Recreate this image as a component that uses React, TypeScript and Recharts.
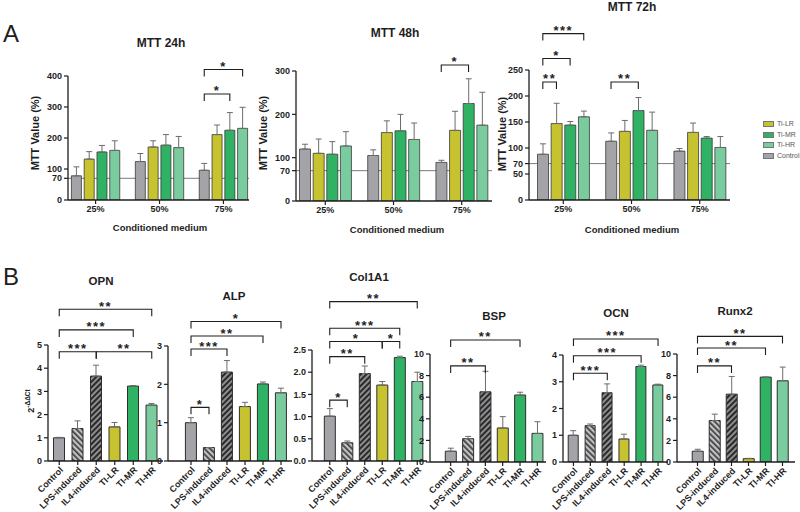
import React from 'react';
import { BarChart, Bar, XAxis, YAxis, ErrorBar, Cell, ReferenceLine, CartesianGrid } from 'recharts';

const FONT = '"Liberation Sans", Arial, Helvetica, sans-serif';
const INK = '#1e1e1e';

// ---------- Panel A: MTT viability ----------
const mttGroups = ['25%', '50%', '75%'];
const mttSeries = ['Control', 'Ti-LR', 'Ti-MR', 'Ti-HR'];

// rows follow mttSeries, columns follow mttGroups
const mtt24hMean = [[78, 124, 96], [132, 171, 211], [155, 177, 225], [160, 169, 231]];
const mtt24hSd = [[29, 26, 22], [24, 20, 31], [21, 34, 57], [31, 36, 68]];
const mtt48hMean = [[120, 105, 89], [110, 158, 163], [108, 162, 225], [127, 142, 175]];
const mtt48hSd = [[11, 13, 5], [33, 27, 44], [29, 38, 57], [33, 38, 76]];
const mtt72hMean = [[88, 113, 94], [147, 132, 130], [144, 172, 119], [160, 134, 101]];
const mtt72hSd = [[20, 16, 5], [39, 21, 18], [7, 25, 3], [11, 35, 21]];

const mtt24hTicks = [0, 70, 100, 200, 300, 400];
const mtt48hTicks = [0, 70, 100, 200, 300];
const mtt72hTicks = [0, 50, 70, 100, 150, 200, 250];
const viabilityThreshold = 70;

const mtt24hSig = [
  { group: '75%', from: 'Control', to: 'Ti-MR', y: 342, mark: '*' },
  { group: '75%', from: 'Control', to: 'Ti-HR', y: 421, mark: '*' },
];
const mtt48hSig = [{ group: '75%', from: 'Control', to: 'Ti-MR', y: 314, mark: '*' }];
const mtt72hSig = [
  { group: '25%', from: 'Control', to: 'Ti-LR', y: 227, mark: '**' },
  { group: '25%', from: 'Control', to: 'Ti-MR', y: 272, mark: '*' },
  { group: '25%', from: 'Control', to: 'Ti-HR', y: 320, mark: '***' },
  { group: '50%', from: 'Control', to: 'Ti-MR', y: 227, mark: '**' },
];

// ---------- Panel B: osteogenic gene expression ----------
const geneGroups = ['Control', 'LPS-induced', 'IL4-induced', 'TI-LR', 'TI-MR', 'TI-HR'];

const opnMean = [1.0, 1.4, 3.66, 1.47, 3.23, 2.41];
const opnSd = [0.02, 0.33, 0.47, 0.19, 0.02, 0.07];
const alpMean = [1.0, 0.35, 2.32, 1.42, 2.01, 1.78];
const alpSd = [0.13, 0, 0.3, 0.11, 0.05, 0.12];
const col1a1Mean = [1.01, 0.41, 1.97, 1.71, 2.33, 1.79];
const col1a1Sd = [0.17, 0.04, 0.17, 0.08, 0.03, 0.21];
const bspMean = [1.0, 2.16, 6.5, 3.15, 6.2, 2.65];
const bspSd = [0.28, 0.21, 1.9, 1.05, 0.26, 1.08];
const ocnMean = [1.0, 1.36, 2.59, 0.86, 3.57, 2.88];
const ocnSd = [0.17, 0.06, 0.33, 0.18, 0.05, 0.03];
const runx2Mean = [1.0, 3.84, 6.28, 0.31, 7.86, 7.52];
const runx2Sd = [0.18, 0.59, 1.64, 0.03, 0, 1.27];

const opnTicks = [0, 1, 2, 3, 4, 5];
const alpTicks = [0, 1, 2, 3];
const col1a1Ticks = [0, 0.5, 1, 1.5, 2, 2.5];
const bspTicks = [0, 2, 4, 6, 8, 10];
const ocnTicks = [0, 1, 2, 3, 4];
const runx2Ticks = [0, 2, 4, 6, 8, 10];

const opnSig = [
  { from: 'Control', to: 'IL4-induced', y: 4.71, mark: '***' },
  { from: 'IL4-induced', to: 'TI-HR', y: 4.71, mark: '**' },
  { from: 'Control', to: 'TI-MR', y: 5.65, mark: '***' },
  { from: 'Control', to: 'TI-HR', y: 6.54, mark: '**' },
];
const alpSig = [
  { from: 'Control', to: 'LPS-induced', y: 1.4, mark: '*' },
  { from: 'Control', to: 'IL4-induced', y: 2.92, mark: '***' },
  { from: 'Control', to: 'TI-MR', y: 3.26, mark: '**' },
  { from: 'Control', to: 'TI-HR', y: 3.64, mark: '*' },
];
const col1a1Sig = [
  { from: 'Control', to: 'LPS-induced', y: 1.37, mark: '*' },
  { from: 'Control', to: 'IL4-induced', y: 2.35, mark: '**' },
  { from: 'Control', to: 'TI-LR', y: 2.69, mark: '*' },
  { from: 'TI-LR', to: 'TI-MR', y: 2.69, mark: '*' },
  { from: 'Control', to: 'TI-MR', y: 2.99, mark: '***' },
  { from: 'Control', to: 'TI-HR', y: 3.59, mark: '**' },
];
const bspSig = [
  { from: 'Control', to: 'IL4-induced', y: 8.9, mark: '**' },
  { from: 'Control', to: 'TI-MR', y: 11.3, mark: '**' },
];
const ocnSig = [
  { from: 'Control', to: 'IL4-induced', y: 3.32, mark: '***' },
  { from: 'Control', to: 'TI-MR', y: 3.97, mark: '***' },
  { from: 'Control', to: 'TI-HR', y: 4.6, mark: '***' },
];
const runx2Sig = [
  { from: 'Control', to: 'IL4-induced', y: 8.9, mark: '**' },
  { from: 'Control', to: 'TI-MR', y: 10.55, mark: '**' },
  { from: 'Control', to: 'TI-HR', y: 11.63, mark: '**' },
];

const seriesFill: Record<string, string> = {
  Control: '#a3a3a8',
  'LPS-induced': 'url(#hatch-lps)',
  'IL4-induced': 'url(#hatch-il4)',
  'Ti-LR': '#c6c230',
  'TI-LR': '#c6c230',
  'Ti-MR': '#2fb264',
  'TI-MR': '#2fb264',
  'Ti-HR': '#7acc9f',
  'TI-HR': '#7acc9f',
};

type Box = { left: number; top: number; right: number; bottom: number };
type Pad = { left: number; right: number };

function frame(plot: Box, box: Box) {
  return {
    width: box.right - box.left,
    height: box.bottom - box.top,
    margin: { top: plot.top - box.top, right: box.right - plot.right, left: 0, bottom: 0 },
    yWidth: plot.left - box.left,
    xHeight: box.bottom - plot.bottom,
  };
}

// significance bracket: horizontal bar with short legs and star marks above
function bracket(mark: string, drop: number) {
  return (p: any) => {
    const { x1, y1, x2, y2 } = p;
    return (
      <g>
        <path
          d={`M${x1},${y1 + drop}V${y1}H${x2}V${y2 + drop}`}
          fill="none"
          stroke={INK}
          strokeWidth={1.1}
        />
        <text
          x={(x1 + x2) / 2}
          y={y1 + 1.5}
          textAnchor="middle"
          fontSize={13}
          fontWeight={700}
          fill={INK}
          letterSpacing={1.5}
          fontFamily={FONT}
        >
          {mark}
        </text>
      </g>
    );
  };
}

const tickText = (size: number) => ({ fontSize: size, fontWeight: 700, fill: INK, fontFamily: FONT });

type MttRow = { key: string; pos: number; series?: string; value: number | null; err?: [number, number] };

function mttRows(mean: number[][], sd: number[][]): MttRow[] {
  const rows: MttRow[] = [];
  mttGroups.forEach((g, gi) => {
    if (gi > 0) rows.push({ key: `gap${gi}`, pos: rows.length, value: null });
    mttSeries.forEach((s, si) => {
      rows.push({ key: `${g}|${s}`, pos: rows.length, series: s, value: mean[si][gi], err: [0, sd[si][gi]] });
    });
  });
  return rows;
}

function MttChart(props: {
  mean: number[][];
  sd: number[][];
  sig: { group: string; from: string; to: string; y: number; mark: string }[];
  max: number;
  ticks: number[];
  plot: Box;
  box: Box;
  pad: Pad;
}) {
  const { mean, sd, sig, max, ticks, plot, box, pad } = props;
  const rows = mttRows(mean, sd);
  const f = frame(plot, box);
  const groupTicks = mttGroups.map((_, gi) => gi * (mttSeries.length + 1) + mttSeries.length / 2);
  return (
    <div style={{ position: 'absolute', left: box.left, top: box.top }}>
      <BarChart width={f.width} height={f.height} data={rows} margin={f.margin} barCategoryGap="11%">
        <XAxis
          xAxisId="grp"
          dataKey="pos"
          type="number"
          domain={[0, rows.length]}
          allowDataOverflow
          ticks={groupTicks}
          interval={0}
          tickFormatter={(v: number) => mttGroups[groupTicks.indexOf(v)] ?? ''}
          padding={pad}
          height={f.xHeight}
          tickSize={4}
          tickMargin={2}
          tick={tickText(9)}
          axisLine={{ stroke: INK, strokeWidth: 1.3 }}
          tickLine={{ stroke: INK, strokeWidth: 1.2 }}
        />
        <XAxis xAxisId="bars" dataKey="key" type="category" hide height={0} padding={pad} />
        <YAxis
          width={f.yWidth}
          domain={[0, max]}
          ticks={ticks}
          interval={0}
          allowDataOverflow
          tickSize={4}
          tickMargin={2}
          tick={tickText(9)}
          axisLine={{ stroke: INK, strokeWidth: 1.3 }}
          tickLine={{ stroke: INK, strokeWidth: 1.2 }}
        />
        <CartesianGrid
          xAxisId="bars"
          vertical={false}
          horizontalValues={[viabilityThreshold]}
          stroke="#7b7b7b"
          strokeWidth={1}
        />
        <Bar xAxisId="bars" dataKey="value" stroke="#3a3a3a" strokeWidth={0.8} isAnimationActive={false}>
          {rows.map((r) => (
            <Cell key={r.key} fill={r.series ? seriesFill[r.series] : 'none'} stroke={r.series ? '#3a3a3a' : 'none'} />
          ))}
          <ErrorBar dataKey="err" width={3} stroke="#6c6c6c" strokeWidth={1} direction="y" />
        </Bar>
        {sig.map((s, i) => (
          <ReferenceLine
            key={i}
            xAxisId="bars"
            ifOverflow="visible"
            segment={[
              { x: `${s.group}|${s.from}`, y: s.y },
              { x: `${s.group}|${s.to}`, y: s.y },
            ]}
            shape={bracket(s.mark, 7)}
          />
        ))}
      </BarChart>
    </div>
  );
}

function GeneChart(props: {
  mean: number[];
  sd: number[];
  sig: { from: string; to: string; y: number; mark: string }[];
  max: number;
  ticks: number[];
  decimals?: number;
  plot: Box;
  box: Box;
  pad: Pad;
}) {
  const { mean, sd, sig, max, ticks, decimals, plot, box, pad } = props;
  const rows = geneGroups.map((name, i) => ({ name, value: mean[i], err: [0, sd[i]] as [number, number] }));
  const f = frame(plot, box);
  return (
    <div style={{ position: 'absolute', left: box.left, top: box.top }}>
      <BarChart width={f.width} height={f.height} data={rows} margin={f.margin} barCategoryGap="19%">
        <XAxis
          dataKey="name"
          type="category"
          interval={0}
          padding={pad}
          height={f.xHeight}
          tickSize={4}
          tickMargin={1}
          angle={-45}
          textAnchor="end"
          tick={tickText(9)}
          axisLine={{ stroke: INK, strokeWidth: 1.3 }}
          tickLine={{ stroke: INK, strokeWidth: 1.2 }}
        />
        <YAxis
          width={f.yWidth}
          domain={[0, max]}
          ticks={ticks}
          interval={0}
          allowDataOverflow
          tickSize={4}
          tickMargin={2}
          tickFormatter={(v: number) => (decimals ? v.toFixed(decimals) : String(v))}
          tick={tickText(9)}
          axisLine={{ stroke: INK, strokeWidth: 1.3 }}
          tickLine={{ stroke: INK, strokeWidth: 1.2 }}
        />
        <Bar dataKey="value" stroke="#2e2e2e" strokeWidth={1} isAnimationActive={false}>
          {rows.map((r) => (
            <Cell key={r.name} fill={seriesFill[r.name]} />
          ))}
          <ErrorBar dataKey="err" width={3} stroke="#6c6c6c" strokeWidth={1} direction="y" />
        </Bar>
        {sig.map((s, i) => (
          <ReferenceLine
            key={i}
            ifOverflow="visible"
            segment={[
              { x: s.from, y: s.y },
              { x: s.to, y: s.y },
            ]}
            shape={bracket(s.mark, 7)}
          />
        ))}
      </BarChart>
    </div>
  );
}

function Txt(props: {
  x: number;
  y: number;
  size?: number;
  weight?: number;
  rotate?: number;
  color?: string;
  anchor?: 'start' | 'middle';
  children: React.ReactNode;
}) {
  const { x, y, size = 10, weight = 700, rotate = 0, color = INK, anchor = 'middle', children } = props;
  return (
    <div
      style={{
        position: 'absolute',
        left: x,
        top: y,
        transform: `translate(${anchor === 'middle' ? '-50%' : '0'}, -50%) rotate(${rotate}deg)`,
        fontSize: size,
        fontWeight: weight,
        color,
        whiteSpace: 'nowrap',
        lineHeight: 1,
        fontFamily: FONT,
      }}
    >
      {children}
    </div>
  );
}

const legendItems = ['Ti-LR', 'Ti-MR', 'Ti-HR', 'Control'];

export default function App() {
  const bTop = 280;
  const bBottom = 512;
  return (
    <div
      style={{
        position: 'absolute',
        left: 0,
        top: 0,
        width: 800,
        height: 512,
        background: '#fff',
        overflow: 'hidden',
        fontFamily: FONT,
      }}
    >
      <svg width={0} height={0} style={{ position: 'absolute' }}>
        <defs>
          <pattern id="hatch-lps" patternUnits="userSpaceOnUse" width={4} height={4} patternTransform="rotate(-45)">
            <rect width={4} height={4} fill="#c2c2c6" />
            <rect width={1.7} height={4} fill="#3e3e3e" />
          </pattern>
          <pattern id="hatch-il4" patternUnits="userSpaceOnUse" width={4} height={4} patternTransform="rotate(45)">
            <rect width={4} height={4} fill="#8e8e92" />
            <rect width={2} height={4} fill="#2a2a2a" />
          </pattern>
        </defs>
      </svg>

      {/* Panel A */}
      <Txt x={11} y={34} size={24} weight={400}>A</Txt>
      <Txt x={161} y={43} size={12}>MTT 24h</Txt>
      <Txt x={395} y={33} size={12}>MTT 48h</Txt>
      <Txt x={632} y={7} size={12}>MTT 72h</Txt>
      <Txt x={35} y={133} size={11} rotate={-90}>MTT Value (%)</Txt>
      <Txt x={263} y={133} size={11} rotate={-90}>MTT Value (%)</Txt>
      <Txt x={502} y={134} size={11} rotate={-90}>MTT Value (%)</Txt>
      <Txt x={160} y={228} size={9.5}>Conditioned medium</Txt>
      <Txt x={397} y={230} size={9.5}>Conditioned medium</Txt>
      <Txt x={632} y={230} size={9.5}>Conditioned medium</Txt>

      <MttChart
        mean={mtt24hMean}
        sd={mtt24hSd}
        sig={mtt24hSig}
        max={400}
        ticks={mtt24hTicks}
        plot={{ left: 68, top: 76, right: 249, bottom: 200 }}
        box={{ left: 30, top: 10, right: 255, bottom: 222 }}
        pad={{ left: 2, right: 0 }}
      />
      <MttChart
        mean={mtt48hMean}
        sd={mtt48hSd}
        sig={mtt48hSig}
        max={300}
        ticks={mtt48hTicks}
        plot={{ left: 296, top: 71, right: 492, bottom: 201 }}
        box={{ left: 266, top: 10, right: 497, bottom: 222 }}
        pad={{ left: 2, right: 3 }}
      />
      <MttChart
        mean={mtt72hMean}
        sd={mtt72hSd}
        sig={mtt72hSig}
        max={250}
        ticks={mtt72hTicks}
        plot={{ left: 529, top: 70, right: 730, bottom: 200 }}
        box={{ left: 505, top: 10, right: 735, bottom: 222 }}
        pad={{ left: 7, right: 3 }}
      />

      {legendItems.map((name, i) => (
        <div key={name}>
          <div
            style={{
              position: 'absolute',
              left: 763,
              top: 121 + i * 10.7,
              width: 9,
              height: 4,
              background: seriesFill[name],
              border: '0.5px solid #777',
            }}
          />
          <Txt x={777} y={123 + i * 10.7} size={7} weight={400} color="#555" anchor="start">
            {name}
          </Txt>
        </div>
      ))}

      {/* Panel B */}
      <Txt x={11} y={277} size={24} weight={400}>B</Txt>
      <Txt x={101} y={282} size={11.5}>OPN</Txt>
      <Txt x={234} y={297} size={11.5}>ALP</Txt>
      <Txt x={369} y={278} size={11.5}>Col1A1</Txt>
      <Txt x={494} y={317} size={11.5}>BSP</Txt>
      <Txt x={616} y={314} size={11.5}>OCN</Txt>
      <Txt x={735} y={312} size={11.5}>Runx2</Txt>
      <Txt x={30} y={401} size={9} rotate={-90}>
        2<sup style={{ fontSize: 6.5 }}>-ΔΔCt</sup>
      </Txt>

      <GeneChart
        mean={opnMean}
        sd={opnSd}
        sig={opnSig}
        max={5}
        ticks={opnTicks}
        plot={{ left: 48, top: 345, right: 163, bottom: 461 }}
        box={{ left: 22, top: bTop, right: 166, bottom: bBottom }}
        pad={{ left: 2, right: 2 }}
      />
      <GeneChart
        mean={alpMean}
        sd={alpSd}
        sig={alpSig}
        max={3}
        ticks={alpTicks}
        plot={{ left: 168, top: 346, right: 292, bottom: 461 }}
        box={{ left: 142, top: bTop, right: 296, bottom: bBottom }}
        pad={{ left: 14, right: 2 }}
      />
      <GeneChart
        mean={col1a1Mean}
        sd={col1a1Sd}
        sig={col1a1Sig}
        max={2.5}
        ticks={col1a1Ticks}
        decimals={1}
        plot={{ left: 312, top: 350, right: 427, bottom: 461 }}
        box={{ left: 284, top: bTop, right: 430, bottom: bBottom }}
        pad={{ left: 9, right: 1 }}
      />
      <GeneChart
        mean={bspMean}
        sd={bspSd}
        sig={bspSig}
        max={10}
        ticks={bspTicks}
        plot={{ left: 430, top: 354, right: 546, bottom: 462 }}
        box={{ left: 404, top: bTop, right: 549, bottom: bBottom }}
        pad={{ left: 12, right: 0 }}
      />
      <GeneChart
        mean={ocnMean}
        sd={ocnSd}
        sig={ocnSig}
        max={4}
        ticks={ocnTicks}
        plot={{ left: 563, top: 355, right: 668, bottom: 462 }}
        box={{ left: 540, top: bTop, right: 671, bottom: bBottom }}
        pad={{ left: 2, right: 1.5 }}
      />
      <GeneChart
        mean={runx2Mean}
        sd={runx2Sd}
        sig={runx2Sig}
        max={10}
        ticks={runx2Ticks}
        plot={{ left: 677, top: 354, right: 795, bottom: 462 }}
        box={{ left: 651, top: bTop, right: 800, bottom: bBottom }}
        pad={{ left: 12, right: 4 }}
      />
    </div>
  );
}
